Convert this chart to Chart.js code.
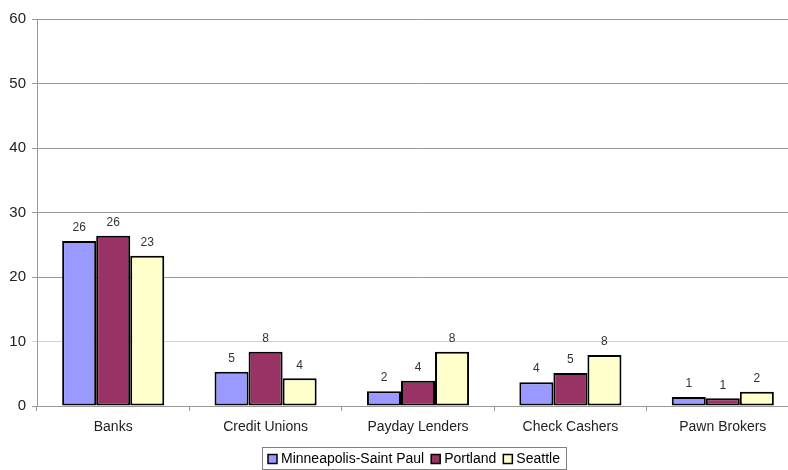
<!DOCTYPE html>
<html>
<head>
<meta charset="utf-8">
<script src="https://cdn.jsdelivr.net/npm/chart.js@4.4.0/dist/chart.umd.min.js"></script>
<style>
html,body{margin:0;padding:0;overflow:hidden;background:#fff;}
#wrap{position:absolute;left:0;top:0;width:800px;height:470px;}
</style>
</head>
<body>
<div id="wrap"><canvas id="c"></canvas></div>
<script>
const categories = ["Banks", "Credit Unions", "Payday Lenders", "Check Cashers", "Pawn Brokers"];
const seriesNames = ["Minneapolis-Saint Paul", "Portland", "Seattle"];
const minneapolis = [25.6, 5.3, 2.3, 3.7, 1.4];
const portland = [26.4, 8.4, 3.9, 5.1, 1.2];
const seattle = [23.3, 4.3, 8.4, 7.9, 2.2];
const yTicks = [0, 10, 20, 30, 40, 50, 60];

const colors = ["#9999FF", "#993366", "#FFFFCC"];
const FONT = "'Liberation Sans', Arial, sans-serif";

const valueLabels = {
  id: 'valueLabels',
  afterDatasetsDraw(chart) {
    const ctx = chart.ctx;
    ctx.save();
    ctx.font = "12px " + FONT;
    ctx.fillStyle = "#333";
    ctx.textAlign = "center";
    ctx.textBaseline = "middle";
    chart.data.datasets.forEach((ds, i) => {
      chart.getDatasetMeta(i).data.forEach((bar, j) => {
        ctx.fillText(String(Math.round(ds.data[j])), bar.x, bar.y - 13);
      });
    });
    ctx.restore();
  }
};

const boxLegend = {
  id: 'boxLegend',
  afterDraw(chart) {
    const ctx = chart.ctx;
    ctx.save();
    ctx.font = "14px " + FONT;
    const box = 9, gapBox = 4, gapItem = 7, pad = 6;
    const widths = chart.data.datasets.map(d => ctx.measureText(d.label).width);
    let total = pad * 2;
    widths.forEach((w, i) => { total += box + gapBox + w + (i < widths.length - 1 ? gapItem : 0); });
    const left = 262, top = 447, h = 22;
    ctx.strokeStyle = "#808080";
    ctx.lineWidth = 1;
    ctx.strokeRect(left + 0.5, top + 0.5, Math.round(total), h);
    let x = left + pad;
    const cy = top + h / 2 + 1;
    chart.data.datasets.forEach((d, i) => {
      ctx.fillStyle = d.backgroundColor;
      ctx.fillRect(x, cy - box / 2, box, box);
      ctx.strokeStyle = "#000";
      ctx.lineWidth = 1.5;
      ctx.strokeRect(x, cy - box / 2, box, box);
      ctx.fillStyle = "#000";
      ctx.textBaseline = "middle";
      ctx.textAlign = "left";
      ctx.fillText(d.label, x + box + gapBox, cy);
      x += box + gapBox + widths[i] + gapItem;
    });
    ctx.restore();
  }
};

const dataArrays = [minneapolis, portland, seattle];
new Chart(document.getElementById('c'), {
  type: 'bar',
  data: {
    labels: categories,
    datasets: seriesNames.map((n, i) => ({
      label: n,
      data: dataArrays[i],
      backgroundColor: colors[i],
      borderColor: "#000",
      borderWidth: 2,
      borderSkipped: false,
      categoryPercentage: 0.67,
      barPercentage: 1.0
    }))
  },
  options: {
    responsive: true,
    maintainAspectRatio: false,
    animation: false,
    layout: { padding: { top: 19, right: 1, bottom: 24, left: 0 } },
    plugins: { legend: { display: false }, tooltip: { enabled: false } },
    scales: {
      x: {
        grid: { offset: true, drawOnChartArea: false, drawTicks: true, tickLength: 5, color: "#999999" },
        border: { color: "#999999", width: 1 },
        ticks: { font: { size: 14, family: FONT }, color: "#222", padding: 8 },
        afterFit(s) { s.height = 40; }
      },
      y: {
        min: 0, max: 60,
        afterBuildTicks(s) { s.ticks = yTicks.map(v => ({ value: v })); },
        grid: {
          color: c => (c.tick && c.tick.value === 10) ? "#ccccff" : "#999999",
          tickLength: 5, lineWidth: 1
        },
        border: { color: "#999999", width: 1 },
        ticks: { font: { size: 15, family: FONT }, color: "#222", padding: 6 },
        afterFit(s) { s.width = 37; }
      }
    }
  },
  plugins: [valueLabels, boxLegend]
});
</script>
</body>
</html>
